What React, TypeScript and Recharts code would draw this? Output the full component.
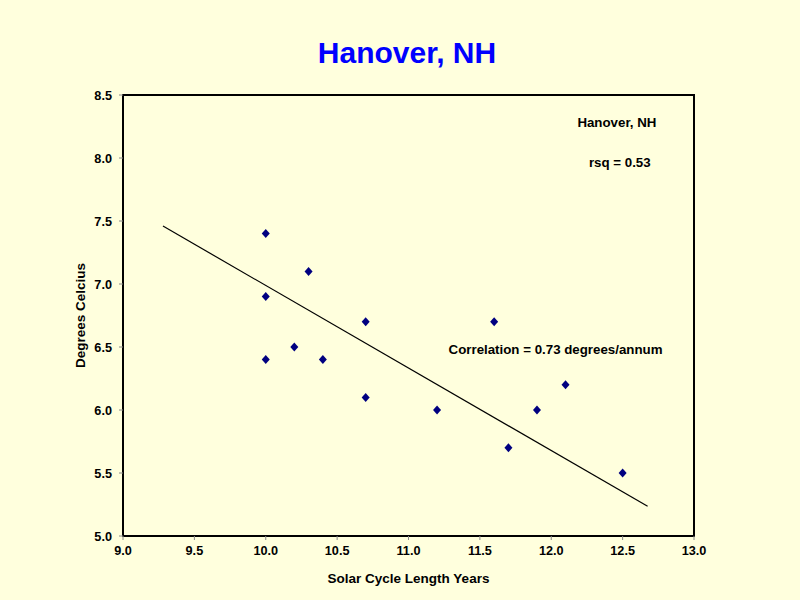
import {
  ScatterChart,
  Scatter,
  XAxis,
  YAxis,
  ReferenceLine,
  ReferenceArea,
  ReferenceDot,
  Label,
} from "recharts";

const cycleLength = [10.0, 10.0, 10.0, 10.2, 10.3, 10.4, 10.7, 10.7, 11.2, 11.6, 11.7, 11.9, 12.1, 12.5];
const degrees = [7.4, 6.9, 6.4, 6.5, 7.1, 6.4, 6.7, 6.1, 6.0, 6.7, 5.7, 6.0, 6.2, 5.5];

const xTicks = [9.0, 9.5, 10.0, 10.5, 11.0, 11.5, 12.0, 12.5, 13.0];
const yTicks = [5.0, 5.5, 6.0, 6.5, 7.0, 7.5, 8.0, 8.5];

const trendStart = { x: 9.28, y: 7.46 };
const trendEnd = { x: 12.675, y: 5.236 };

const points = cycleLength.map((x, i) => ({ x, y: degrees[i] }));

const FONT = "'Liberation Sans', Arial, sans-serif";
const BG = "#FFFFDD";

function Diamond(props: any) {
  const { cx, cy } = props;
  if (cx == null || cy == null) return null;
  return (
    <polygon
      points={`${cx},${cy - 4.5} ${cx + 4},${cy} ${cx},${cy + 4.5} ${cx - 4},${cy}`}
      fill="#000080"
    />
  );
}

const tickStyle = { fontSize: 12.7, fontWeight: "bold", fill: "#000", fontFamily: FONT };
const noteStyle = { fontSize: 13.3, fontWeight: "bold", fill: "#000", fontFamily: FONT };

export default function App() {
  return (
    <div
      style={{
        position: "absolute",
        left: 0,
        top: 0,
        width: 800,
        height: 600,
        background: BG,
        fontFamily: FONT,
      }}
    >
      <div
        style={{
          position: "absolute",
          top: 34,
          left: 0,
          width: 814,
          textAlign: "center",
          color: "#0000FF",
          fontSize: 30,
          fontWeight: "bold",
          lineHeight: "38px",
        }}
      >
        Hanover, NH
      </div>
      <ScatterChart
        width={800}
        height={600}
        margin={{ top: 95, right: 106, bottom: 0, left: 0 }}
        style={{ position: "absolute", left: 0, top: 0 }}
      >
        <XAxis
          type="number"
          dataKey="x"
          domain={[9, 13]}
          ticks={xTicks}
          tickFormatter={(v: number) => v.toFixed(1)}
          height={64}
          tick={tickStyle}
          tickSize={4}
          tickMargin={6}
          axisLine={{ stroke: "#000", strokeWidth: 2 }}
          tickLine={{ stroke: "#888" }}
          interval={0}
        >
          <Label
            value="Solar Cycle Length Years"
            position="insideBottom"
            offset={17}
            style={{ ...noteStyle, fontSize: 13.5 }}
          />
        </XAxis>
        <YAxis
          type="number"
          dataKey="y"
          domain={[5, 8.5]}
          ticks={yTicks}
          tickFormatter={(v: number) => v.toFixed(1)}
          width={123}
          tick={tickStyle}
          tickSize={4}
          tickMargin={7}
          axisLine={{ stroke: "#000", strokeWidth: 2 }}
          tickLine={{ stroke: "#888" }}
          interval={0}
        >
          <Label
            value="Degrees Celcius"
            angle={-90}
            position="insideLeft"
            offset={80}
            style={{ ...noteStyle, fontSize: 13.5, textAnchor: "middle" }}
          />
        </YAxis>
        <ReferenceArea
          x1={9}
          x2={13}
          y1={5}
          y2={8.5}
          fill="none"
          stroke="#000"
          strokeWidth={2}
          fillOpacity={0}
        />
        <ReferenceLine
          segment={[trendStart, trendEnd]}
          stroke="#000"
          strokeWidth={1.2}
          ifOverflow="visible"
        />
        <Scatter data={points} shape={<Diamond />} isAnimationActive={false} />
        <ReferenceDot x={12.46} y={8.28} r={0} fill="none" stroke="none">
          <Label value="Hanover, NH" position="center" style={noteStyle} />
        </ReferenceDot>
        <ReferenceDot x={12.48} y={7.97} r={0} fill="none" stroke="none">
          <Label value="rsq = 0.53" position="center" style={noteStyle} />
        </ReferenceDot>
        <ReferenceDot x={12.03} y={6.485} r={0} fill="none" stroke="none">
          <Label value="Correlation = 0.73 degrees/annum" position="center" style={noteStyle} />
        </ReferenceDot>
      </ScatterChart>
    </div>
  );
}
